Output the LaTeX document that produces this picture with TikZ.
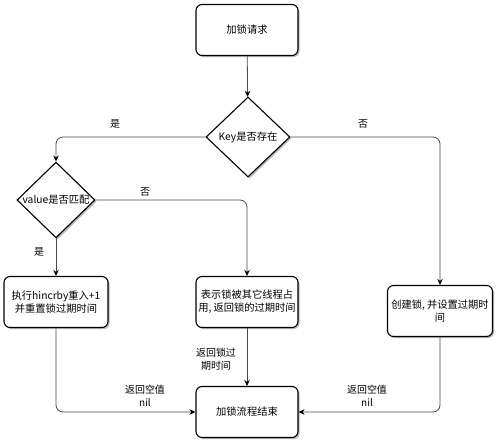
\documentclass[tikz,border=0pt]{standalone}
\usepackage{fontspec}
\setmainfont{Noto Sans CJK SC}
\usetikzlibrary{shapes.geometric,arrows.meta,shadows}
\begin{document}
\begin{tikzpicture}[x=1bp,y=-1bp,
  box/.style={draw=black, line width=1.1bp, rounded corners=6bp, minimum width=102bp, minimum height=51bp, inner sep=1bp,
    align=center, fill=white, font=\fontsize{10.3}{13}\selectfont,
    drop shadow={shadow xshift=1.6bp, shadow yshift=-1.6bp, fill=gray!55, opacity=1}},
  dia/.style={draw=black, diamond, line width=1.1bp, inner sep=0bp, fill=white, font=\fontsize{10.3}{13}\selectfont,
    drop shadow={shadow xshift=1.6bp, shadow yshift=-1.6bp, fill=gray!55, opacity=1}},
  conn/.style={draw=black!70, line width=0.8bp, rounded corners=7bp, -{Stealth[length=6bp,width=5.5bp,black]}},
  lbl/.style={font=\fontsize{10}{12.5}\selectfont, align=center, inner sep=0bp}]
\fill[white] (0,0) rectangle (500,448);
\useasboundingbox (0,0) rectangle (500,448);

\node[box] (start) at (247,30) {加锁请求};
\node[dia, minimum width=84bp, minimum height=80bp] (key) at (248,137) {Key是否存在};
\node[dia, minimum width=78bp, minimum height=70bp] (val) at (56,200) {value是否匹配};
\node[box, minimum width=104bp] (left) at (56,302) {执行hincrby重入+1\\并重置锁过期时间};
\node[box] (mid) at (247,302) {表示锁被其它线程占\\用, 返回锁的过期时间};
\node[box, minimum width=105bp] (right) at (440,311) {创建锁, 并设置过期时\\间};
\node[box] (end) at (247,412) {加锁流程结束};

\draw[conn] (start) -- (key);
\draw[conn] (key.west) -| (val.north);
\draw[conn] (key.east) -| (right.north);
\draw[conn] (val.east) -| (mid.north);
\draw[conn] (val.south) -- (left.north);
\draw[conn] (left.south) |- (end.west);
\draw[conn] (mid.south) -- (end.north);
\draw[conn] (right.south) |- (end.east);

\node[lbl] (l1) at (115,124) {是};
\node[lbl] (l2) at (363,124) {否};
\node[lbl] (l3) at (145,192) {否};
\node[lbl] (l4) at (39,252) {是};
\node[lbl] (l5) at (216,359) {返回锁过\\期时间};
\node[lbl] (l6) at (145,396) {返回空值\\nil};
\node[lbl] (l7) at (367,396) {返回空值\\nil};
\end{tikzpicture}
\end{document}
